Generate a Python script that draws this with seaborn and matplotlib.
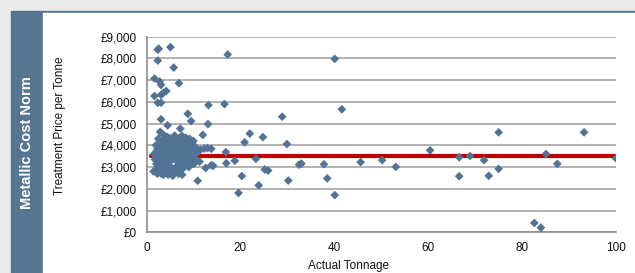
import pandas as pd
import seaborn as sns
import matplotlib.pyplot as plt
from matplotlib.patches import Rectangle
from matplotlib.ticker import FuncFormatter

# dense block of small jobs (tonnage, price per tonne)
cluster_tonnage = [
    1.6, 1.8, 1.5,
    2.0, 2.2, 1.9, 2.1, 2.0, 2.3,
    2.5, 2.7, 2.4, 2.6, 2.5, 2.8, 2.6,
    3.0, 3.2, 2.9, 3.1, 3.0, 3.3, 3.1,
    3.5, 3.6, 3.4, 3.7, 3.5, 3.8, 3.6,
    4.0, 4.2, 3.9, 4.1, 4.0, 4.3, 4.1,
    4.5, 4.7, 4.4, 4.6, 4.5, 4.8, 4.6,
    5.0, 5.2, 4.9, 5.1, 5.0, 5.3, 5.1,
    5.5, 5.7, 5.4, 5.6, 5.5, 5.8, 5.6,
    6.0, 6.2, 5.9, 6.1, 6.0, 6.3, 6.1,
    6.5, 6.7, 6.4, 6.6, 6.5, 6.8,
    7.0, 7.2, 6.9, 7.1, 7.0, 7.3, 7.1,
    7.5, 7.7, 7.4, 7.6, 7.5, 7.8, 7.6,
    8.0, 8.2, 7.9, 8.1, 8.0, 8.3,
    8.5, 8.7, 8.4, 8.6, 8.5,
    9.0, 9.2, 8.9, 9.1, 9.0,
    9.5, 9.7, 9.4, 9.6,
    10.0, 10.2, 9.9, 10.1,
    10.5, 10.7, 10.4,
]
cluster_price = [
    3600, 3350, 2800,
    4000, 3750, 3500, 3150, 2900, 2700,
    4300, 4050, 3850, 3600, 3300, 3050, 2750,
    4150, 3950, 3700, 3450, 3200, 2950, 2700,
    4250, 4000, 3800, 3550, 3300, 2850, 2650,
    4100, 3900, 3650, 3400, 3100, 2900, 2750,
    4200, 4000, 3800, 3550, 3250, 2800, 2650,
    4150, 3900, 3700, 3450, 3050, 2900, 2700,
    4300, 4050, 3850, 3600, 3350, 2750, 2600,
    4450, 4150, 3950, 3700, 3450, 3000, 2800,
    4050, 3800, 3550, 3250, 2900, 2700,
    4350, 4100, 3900, 3650, 3400, 3100, 2800,
    4200, 3950, 3750, 3500, 3200, 2950, 2650,
    4300, 4050, 3850, 3600, 3300, 3050,
    4150, 3900, 3700, 3450, 3150,
    4250, 4000, 3750, 3350, 3000,
    4150, 3850, 3550, 3250,
    4000, 3800, 3450, 3150,
    3900, 3650, 3350,
]

# the rest of the jobs
spread_tonnage = [
    2.4, 2.6, 5.1, 2.4, 5.8, 17.3, 40.1,
    1.7, 2.8, 3.1, 6.9,
    1.7, 3.1, 3.6, 4.2,
    2.4, 3.1, 13.2, 16.6,
    8.8, 9.5, 3.1, 13.1, 4.5, 7.2,
    12.0, 22.0, 24.8, 28.9, 41.6, 29.9, 20.9,
    2.9, 3.4, 3.9, 4.5, 5.0,
    16.9, 23.3, 18.8, 17.0, 14.2, 12.6, 11.3,
    25.2, 25.9, 20.3, 23.9, 30.2, 19.6,
    32.5, 33.0, 37.8, 38.5, 40.1,
    45.6, 50.2, 53.1, 60.4,
    66.6, 66.6, 68.9, 71.9, 72.9, 75.0, 75.0,
    82.6, 84.0, 85.1, 87.5, 93.2, 100.0,
    10.9, 13.8, 11.5, 12.3, 13.0, 13.8, 10.9,
    7.6, 8.4, 9.2, 10.0,
]
spread_price = [
    8400, 8450, 8520, 7900, 7580, 8180, 7980,
    7075, 6940, 6780, 6860,
    6270, 6320, 6420, 6500,
    5960, 5960, 5850, 5900,
    5450, 5120, 5200, 4980, 4920, 4770,
    4480, 4540, 4380, 5320, 5660, 4060, 4140,
    4620, 4520, 4440, 4380, 4330,
    3690, 3380, 3290, 3180, 3060, 2960, 3250,
    2890, 2840, 2590, 2160, 2380, 1810,
    3110, 3160, 3130, 2480, 1710,
    3230, 3320, 3010, 3770,
    3450, 2580, 3510, 3320, 2600, 2920, 4600,
    430, 215, 3600, 3150, 4600, 3400,
    2370, 3090, 3800, 3850, 3870, 3840, 3700,
    4430, 4350, 4300, 4200,
]

norm_tonnage = [1, 100]
norm_price = [3520, 3520]

x_ticks = [0, 20, 40, 60, 80, 100]
y_ticks = [0, 1000, 2000, 3000, 4000, 5000, 6000, 7000, 8000, 9000]

sns.set_theme(style="white")
plt.rcParams['font.family'] = ['Liberation Sans', 'DejaVu Sans']

df = pd.DataFrame({
    'Actual Tonnage': cluster_tonnage + spread_tonnage,
    'Price': cluster_price + spread_price,
})
norm = pd.DataFrame({'Actual Tonnage': norm_tonnage, 'Price': norm_price})

W, H = 635, 273
fig = plt.figure(figsize=(W / 100, H / 100), dpi=100)
fig.patch.set_facecolor('#ebebeb')
band = '#557590'
fig.patches.append(Rectangle((11 / W, 0), 1 - 11 / W, (H - 11) / H,
                             transform=fig.transFigure, color=band, zorder=-2))
fig.patches.append(Rectangle((43 / W, 0), 1 - 43 / W, (H - 13) / H,
                             transform=fig.transFigure, color='white', zorder=-1))

ax = fig.add_axes([146.5 / W, 1 - 232.3 / H, (616 - 146.5) / W, (232.3 - 36.7) / H])
ax.set_facecolor('none')

sns.lineplot(data=norm, x='Actual Tonnage', y='Price', color='#c00000',
             linewidth=3.0, ax=ax, zorder=2)
sns.scatterplot(data=df, x='Actual Tonnage', y='Price', marker='D', s=20,
                color='#527393', edgecolor='none', linewidth=0, ax=ax, zorder=3)

ax.set_xlim(0, 100)
ax.set_ylim(0, 9000)
ax.set_xticks(x_ticks)
ax.set_yticks(y_ticks)
ax.yaxis.set_major_formatter(FuncFormatter(lambda v, p: '£{:,.0f}'.format(v)))
ax.grid(axis='y', color='#9c9c9c', linewidth=1.1)
ax.set_axisbelow(True)
for side in ['top', 'right']:
    ax.spines[side].set_visible(False)
for side in ['left', 'bottom']:
    ax.spines[side].set_color('#8c8c8c')
    ax.spines[side].set_linewidth(1.2)
ax.tick_params(axis='both', direction='out', length=4, width=1, color='#8c8c8c',
               labelsize=8.5, labelcolor='#111111', pad=3)
ax.set_xlabel('')
ax.set_ylabel('')

fig.text(60 / W, 1 - 126 / H, 'Treatment Price per Tonne', rotation=90,
         ha='center', va='center', fontsize=8.5, color='#111111')
fig.text(348 / W, 1 - 266 / H, 'Actual Tonnage', ha='center', va='center',
         fontsize=8.5, color='#111111')
fig.text(27 / W, 1 - 143 / H, 'Metallic Cost Norm', rotation=90, ha='center',
         va='center', fontsize=10.5, fontweight='bold', color='white')

plt.savefig('out.png', dpi=100)
